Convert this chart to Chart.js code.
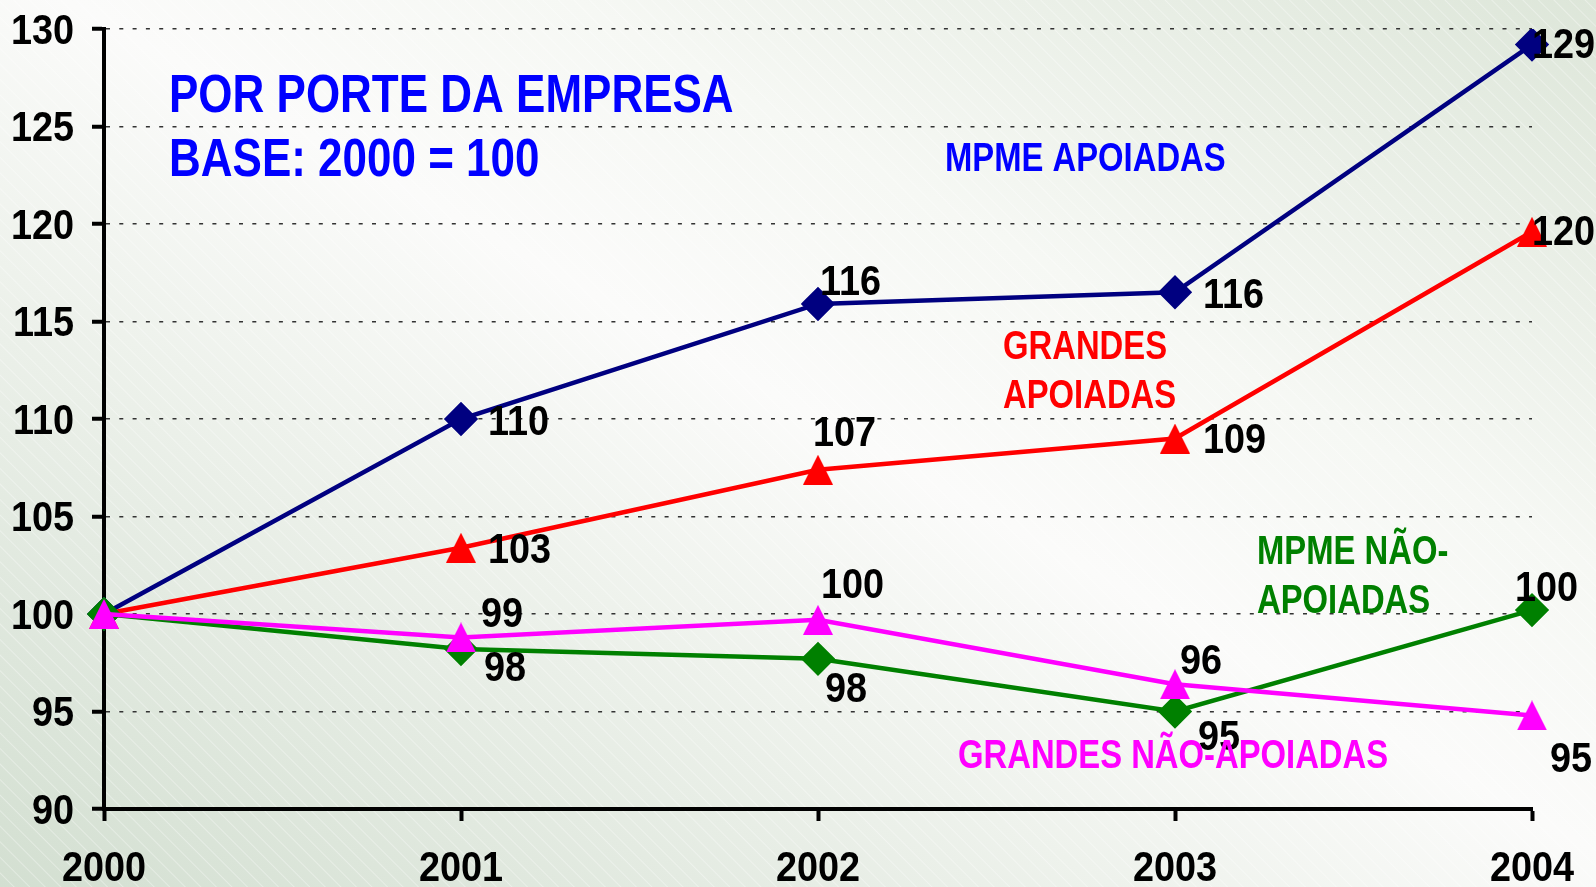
<!DOCTYPE html>
<html>
<head>
<meta charset="utf-8">
<script src="https://cdn.jsdelivr.net/npm/chart.js@4.4.1/dist/chart.umd.min.js"></script>
<style>
html,body{margin:0;padding:0;}
body{
  width:1596px;height:887px;overflow:hidden;
  background:
    repeating-linear-gradient(45deg, rgba(255,255,255,0) 0px, rgba(255,255,255,0) 9px, rgba(255,255,255,0.35) 10px, rgba(255,255,255,0) 11px),
    linear-gradient(to top right, #d3dfd1 0%, #eef2ec 35%, #fbfbfa 52%, #f6f8f4 68%, #dde6d9 100%);
}
#wrap{position:relative;width:1596px;height:887px;}
canvas{display:block;}
</style>
</head>
<body>
<div id="wrap"><canvas id="myChart" width="1596" height="887"></canvas></div>
<script>
'use strict';
let years=['2000','2001','2002','2003','2004'];
let mpmeApoiadas=[100,110.0,115.9,116.5,129.2];
let grandesApoiadas=[100,103.4,107.4,109.0,119.6];
let mpmeNaoApoiadas=[100,98.2,97.7,95.0,100.2];
let grandesNaoApoiadas=[100,98.8,99.7,96.4,94.8];
// value labels as printed on the picture (none at 2000)
let mpmeApoiadasTxt=['','110','116','116','129'];
let grandesApoiadasTxt=['','103','107','109','120'];
let mpmeNaoApoiadasTxt=['','98','98','95','100'];
let grandesNaoApoiadasTxt=['','99','100','96','95'];
let yMin=90, yMax=130, yStep=5;

let FONT='"Liberation Sans",Arial,sans-serif';
let NARROW=0.82; // squeeze Liberation Sans to Arial Narrow widths
let DIGITS=0.9;

// label offsets from the point, px
let offsets=[
  [[0,0],[27,4],[2,-21],[28,4],[0,2]],
  [[0,0],[27,4],[-5,-35],[28,3],[0,2]],
  [[0,0],[23,20],[7,32],[23,27],[-17,-21]],
  [[0,0],[20,-22],[3,-33],[5,-22],[18,45]]
];

function narrowText(ctx,txt,x,y,align,sx)
{
  ctx.save();
  ctx.translate(x,y);
  ctx.scale(sx||NARROW,1);
  ctx.textAlign=align||'left';
  ctx.fillText(txt,0,0);
  ctx.restore();
}

function triangle(color)
{
  let c=document.createElement('canvas');
  c.width=30;c.height=30;
  let g=c.getContext('2d');
  g.fillStyle=color;
  g.beginPath();
  g.moveTo(15,0);g.lineTo(30,30);g.lineTo(0,30);g.closePath();
  g.fill();
  return c;
}

let valueLabels={
  id:'valueLabels',
  afterDatasetsDraw(chart)
  {
    let ctx=chart.ctx;
    ctx.save();
    ctx.textBaseline='middle';
    // axis labels, from the scales
    ctx.font='bold 42px '+FONT;
    ctx.fillStyle='#000';
    let ys=chart.scales.y;
    ys.ticks.forEach((t,i)=>{
      narrowText(ctx,String(t.value),74,ys.getPixelForTick(i)+3,'right',DIGITS);
    });
    let xs=chart.scales.x;
    xs.ticks.forEach((t,i)=>{
      narrowText(ctx,xs.getLabelForValue(t.value),xs.getPixelForTick(i),869,'center',DIGITS);
    });

    // series names
    ctx.font='bold 40px '+FONT;
    ctx.fillStyle='#0000ff';
    narrowText(ctx,'MPME APOIADAS',945,160);
    ctx.fillStyle='#ff0000';
    narrowText(ctx,'GRANDES',1003,348);
    narrowText(ctx,'APOIADAS',1003,397);
    ctx.fillStyle='#008000';
    narrowText(ctx,'MPME NÃO-',1257,553);
    narrowText(ctx,'APOIADAS',1257,602);

    let txts=[mpmeApoiadasTxt,grandesApoiadasTxt,mpmeNaoApoiadasTxt,grandesNaoApoiadasTxt];
    ctx.font='bold 42px '+FONT;
    ctx.fillStyle='#000';
    for(let d=0;d<4;d++)
    {
      let meta=chart.getDatasetMeta(d);
      for(let i=0;i<meta.data.length;i++)
      {
        if(!txts[d][i]) continue;
        let p=meta.data[i];
        narrowText(ctx,txts[d][i],p.x+offsets[d][i][0],p.y+offsets[d][i][1],'left',DIGITS);
      }
    }
    ctx.font='bold 40px '+FONT;
    ctx.fillStyle='#ff00ff';
    narrowText(ctx,'GRANDES NÃO-APOIADAS',958,757);

    ctx.font='bold 53px '+FONT;
    ctx.fillStyle='#0000ff';
    narrowText(ctx,'POR PORTE DA EMPRESA',169,97,'left',0.83);
    narrowText(ctx,'BASE: 2000 = 100',169,161,'left',0.83);
    ctx.restore();
  }
};

var ctx=document.getElementById('myChart').getContext('2d');
var myChart=new Chart(ctx,{
  type:'line',
  data:{
    labels:years,
    datasets:[{
      label:'MPME APOIADAS',
      data:mpmeApoiadas,
      borderColor:'#000080',
      backgroundColor:'#000080',
      borderWidth:4.5,
      pointStyle:'rectRot',
      pointRadius:14,
      order:4
    },{
      label:'GRANDES APOIADAS',
      data:grandesApoiadas,
      borderColor:'#ff0000',
      backgroundColor:'#ff0000',
      borderWidth:4.5,
      pointStyle:triangle('#ff0000'),
      order:3
    },{
      label:'MPME NÃO-APOIADAS',
      data:mpmeNaoApoiadas,
      borderColor:'#008000',
      backgroundColor:'#008000',
      borderWidth:4.5,
      pointStyle:'rectRot',
      pointRadius:14,
      order:2
    },{
      label:'GRANDES NÃO-APOIADAS',
      data:grandesNaoApoiadas,
      borderColor:'#ff00ff',
      backgroundColor:'#ff00ff',
      borderWidth:4.5,
      pointStyle:triangle('#ff00ff'),
      order:1
    }]
  },
  options:{
    responsive:false,
    animation:false,
    layout:{padding:{top:29,right:64,left:0,bottom:0}},
    plugins:{legend:{display:false},tooltip:{enabled:false},title:{display:false}},
    elements:{line:{tension:0},point:{borderWidth:0,hoverRadius:14}},
    scales:{
      x:{
        grid:{drawOnChartArea:false,drawTicks:true,tickLength:12,tickWidth:4,tickColor:'#000'},
        border:{color:'#000',width:4},
        ticks:{display:false},
        afterFit(scale){scale.height=78;}
      },
      y:{
        min:yMin,max:yMax,
        grid:{
          color(c){return c.tick.value===yMin?'rgba(0,0,0,0)':'#333';},
          lineWidth:1.5,
          drawTicks:true,tickLength:12,tickWidth:4,tickColor:'#000'
        },
        border:{color:'#000',width:4,dash:[4,9.3]},
        ticks:{display:false,stepSize:yStep},
        afterFit(scale){scale.width=104;}
      }
    }
  },
  plugins:[valueLabels]
});
</script>
</body>
</html>
